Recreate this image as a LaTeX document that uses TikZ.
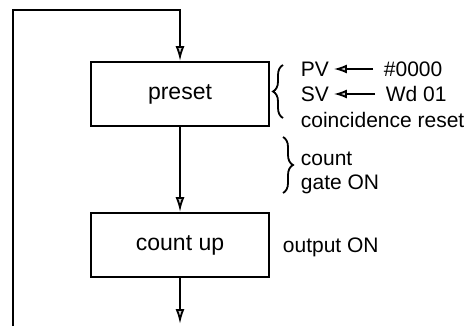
\documentclass[tikz,border=0pt]{standalone}
\usepackage{fontspec}
\setmainfont{Liberation Sans}
\usetikzlibrary{arrows.meta, decorations.pathreplacing}

\begin{document}
\begin{tikzpicture}[
    x=0.5pt, y=-0.5pt, line width=0.9pt,
    stage/.style={draw, rectangle, minimum width=89pt, minimum height=32pt, align=center, font=\fontsize{11.5}{13}\selectfont},
    note/.style={anchor=west, inner sep=2pt, font=\fontsize{10.5}{12}\selectfont},
    flow/.style={-{Latex[length=7.5pt, width=4.5pt, fill=gray!40]}},
    feed/.style={-{Latex[length=6.5pt, width=4.5pt, fill=gray!40]}, shorten <=3pt},
    curly/.style={decorate, decoration={brace, amplitude=5pt}}
]
    \useasboundingbox (0,0) rectangle (469,326);

    % ================= STAGES =================
    \node[stage] (PRESET) at (180,94) {preset};
    \node[stage] (COUNTUP) at (180,245) {count up};

    % ================= FLOW =================
    \coordinate (loopbot) at (13,326);
    \coordinate (looptop) at (180,10);
    \coordinate (exit) at (180,324);

    \draw[flow] (loopbot) |- (looptop) -- (PRESET);
    \draw[flow] (PRESET) -- (COUNTUP);
    \draw[flow] (COUNTUP) -- (exit);

    % ================= PRESET NOTES =================
    \draw[curly] (283,118) -- (283,65);
    \node[note] (pv) at (296,69) {PV};
    \node[note] (sv) at (296,94) {SV};
    \node[note] (coin) at (296,120) {coincidence reset};
    \node[note] (pv_src) at (379,69) {\#0000};
    \node[note] (sv_src) at (381,94) {Wd 01};

    \draw[feed] (pv_src) -- (pv);
    \draw[feed] (sv_src) -- (sv);

    % ================= GATE NOTES =================
    \draw[curly] (283,137) -- (283,193);
    \node[note] (cnt) at (296,159) {count};
    \node[note] (gate) at (296,184) {gate ON};

    % ================= COUNT UP NOTES =================
    \node[note] (out) at (278,247) {output ON};

\end{tikzpicture}
\end{document}
